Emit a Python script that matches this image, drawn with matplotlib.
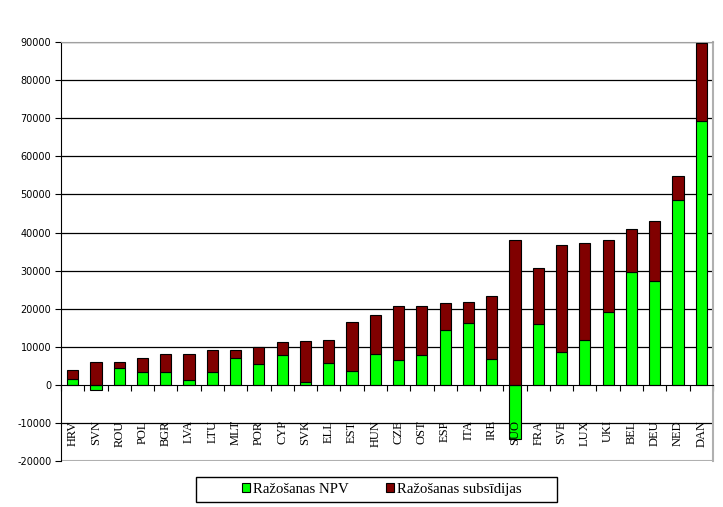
import matplotlib
matplotlib.use("Agg")
import matplotlib.pyplot as plt
from matplotlib.patches import Rectangle
import numpy as np

plt.rcParams["axes.unicode_minus"] = False

countries = ["HRV", "SVN", "ROU", "POL", "BGR", "LVA", "LTU", "MLT", "POR", "CYP",
             "SVK", "ELL", "EST", "HUN", "CZE", "OST", "ESP", "ITA", "IRE", "SUO",
             "FRA", "SVE", "LUX", "UKI", "BEL", "DEU", "NED", "DAN"]
npv = [1650, -1470, 4300, 3400, 3400, 1300, 3400, 7100, 5500, 7900,
       800, 5800, 3700, 8100, 6400, 7900, 14400, 16300, 6750, -14100,
       15900, 8500, 11800, 19000, 29500, 27300, 48500, 69200]
subsidies = [2200, 5900, 1650, 3700, 4600, 6900, 5800, 2100, 4500, 3300,
             10750, 6100, 12700, 10250, 14300, 12850, 7000, 5350, 16700, 38100,
             14700, 28200, 25400, 19050, 11550, 15600, 6400, 20500]

npv = np.array(npv)
subsidies = np.array(subsidies)
x = np.arange(len(countries))

fig = plt.figure(figsize=(7.23, 5.07), dpi=100)
ax = fig.add_axes([0.0844, 0.0907, 0.9016, 0.8263])

# positive parts stack on top of each other, negative NPV goes below zero
sub_bottom = np.where(npv > 0, npv, 0)
ax.bar(x, npv, width=0.48, color="#00ff00", edgecolor="black", linewidth=0.8,
       label="Ražošanas NPV", zorder=3)
ax.bar(x, subsidies, bottom=sub_bottom, width=0.48, color="#800000",
       edgecolor="black", linewidth=0.8, label="Ražošanas subsīdijas", zorder=3)

ax.set_xlim(-0.5, len(countries) - 0.5)
ax.set_ylim(-20000, 90000)
ax.set_yticks(np.arange(-20000, 90001, 10000))
ax.tick_params(axis="y", direction="out", length=4, labelsize=7, pad=3)

for v in np.arange(-10000, 90001, 10000):
    if v != 0:
        ax.axhline(v, color="black", linewidth=0.9, zorder=1)

ax.spines["bottom"].set_position(("data", 0))
ax.spines["bottom"].set_zorder(4)
ax.spines["top"].set_color("#a0a0a0")
ax.spines["right"].set_color("#b0b0b0")
ax.spines["right"].set_linewidth(1.5)
ax.axhline(-20000, color="#b0b0b0", linewidth=1.5, zorder=1)
ax.set_xticks(np.arange(-0.5, len(countries), 1.0))
ax.set_xticklabels([])
ax.tick_params(axis="x", direction="out", length=4)

for i, name in enumerate(countries):
    ax.text(i, -9300, name, rotation=90, ha="center", va="top",
            family="Liberation Serif", fontsize=9)

# legend box is wider than its content, like the spreadsheet original
W, H = 723, 507
fig.patches.append(Rectangle((196 / W, 1 - 502 / H), 361 / W, 25.5 / H,
                             transform=fig.transFigure, fill=False,
                             edgecolor="black", linewidth=1.0))
fig.legend(loc="center", bbox_to_anchor=(382 / W, 1 - 489.5 / H), ncol=2,
           frameon=False, prop={"family": "Liberation Serif", "size": 10.7},
           handlelength=0.55, handleheight=0.55, handletextpad=0.2,
           columnspacing=2.5, borderpad=0.2)

fig.savefig("out.png", dpi=100)
